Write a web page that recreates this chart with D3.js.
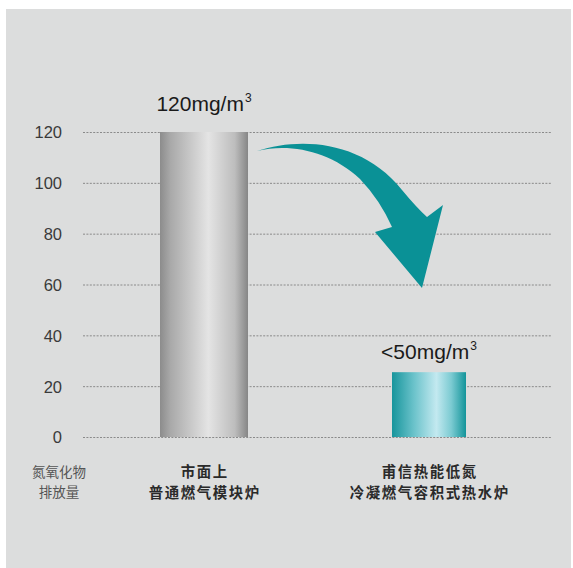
<!DOCTYPE html>
<html><head><meta charset="utf-8">
<script src="https://cdn.jsdelivr.net/npm/d3@7"></script>
<style>
html,body{margin:0;padding:0;background:#fff;}
svg{display:block;}
</style></head>
<body>
<script>
const categories = ["市面上\n普通燃气模块炉", "甫信热能低氮\n冷凝燃气容积式热水炉"];
const values = [120, 25.5];
const valueLabels = ["120mg/m", "<50mg/m"];
const ticks = [0, 20, 40, 60, 80, 100, 120];
const yTitle = ["氮氧化物", "排放量"];

const W = 573, H = 568;
const svg = d3.select("body").append("svg").attr("width", W).attr("height", H);
const defs = svg.append("defs");

svg.append("rect").attr("x", 6).attr("y", 9).attr("width", 565).attr("height", H - 9).attr("fill", "#dcdddd");

const y = d3.scaleLinear().domain([0, 120]).range([437, 132]);
const x = d3.scaleBand().domain(categories).range([91.5, 541.5]);
const barW = [88, 74];

const g1 = defs.append("linearGradient").attr("id", "gGray").attr("x1", "0").attr("x2", "1").attr("y1", "0").attr("y2", "0");
[[0, "#8c8c8c"], [0.12, "#a9a9a9"], [0.55, "#e4e4e4"], [0.85, "#bdbdbd"], [1, "#868686"]].forEach(s => g1.append("stop").attr("offset", s[0]).attr("stop-color", s[1]));
const g2 = defs.append("linearGradient").attr("id", "gTeal").attr("x1", "0").attr("x2", "1").attr("y1", "0").attr("y2", "0");
[[0, "#17959c"], [0.3, "#6cc3cb"], [0.6, "#c3e9f0"], [0.8, "#7ccbd2"], [1, "#13949a"]].forEach(s => g2.append("stop").attr("offset", s[0]).attr("stop-color", s[1]));
const fills = ["url(#gGray)", "url(#gTeal)"];

// grid
const axis = d3.axisLeft(y).tickValues(ticks).tickSize(0).tickPadding(21);
const ag = svg.append("g").attr("transform", "translate(83,0)").call(axis);
ag.select(".domain").remove();
ag.selectAll(".tick text").attr("font-family", "Liberation Sans, Arial, sans-serif").attr("font-size", 16.5).attr("fill", "#3a3a3a").attr("dy", "0.36em");
ag.selectAll(".tick").append("line").attr("x1", 0).attr("x2", 469).attr("stroke", "#8a8a8a").attr("stroke-width", 1).attr("stroke-dasharray", "2,1.4");

// bars
svg.selectAll("rect.bar").data(values).join("rect").attr("class", "bar")
  .attr("x", (d, i) => x(categories[i]) + x.bandwidth() / 2 - barW[i] / 2)
  .attr("width", (d, i) => barW[i])
  .attr("y", d => y(d)).attr("height", d => y(0) - y(d))
  .attr("fill", (d, i) => fills[i]);

// value labels
const vl = svg.selectAll("text.vl").data(values).join("text").attr("class", "vl")
  .attr("x", (d, i) => x(categories[i]) + x.bandwidth() / 2)
  .attr("y", (d, i) => i === 0 ? y(d) - 21 : y(d) - 13)
  .attr("text-anchor", "middle")
  .attr("font-family", "Liberation Sans, Arial, sans-serif").attr("font-size", 21).attr("fill", "#1a1a1a");
vl.append("tspan").text((d, i) => valueLabels[i]);
vl.append("tspan").text("3").attr("font-size", 12).attr("dx", 1).attr("dy", "-0.75em");

// category labels
categories.forEach((c, i) => {
  c.split("\n").forEach((l, k) => {
    svg.append("text").attr("text-anchor", "middle")
      .attr("font-family", "Noto Sans CJK SC, sans-serif").attr("font-size", 14.4).attr("font-weight", "bold")
      .attr("letter-spacing", 1.6).attr("fill", "#2a2a2a")
      .attr("x", x(c) + x.bandwidth() / 2 + 0.8).attr("y", 477 + k * 21).text(l);
  });
});

// y title
yTitle.forEach((l, k) => {
  svg.append("text").attr("text-anchor", "middle")
    .attr("font-family", "Noto Sans CJK SC, sans-serif").attr("font-size", 13.5).attr("fill", "#555")
    .attr("x", 59).attr("y", 477 + k * 20).text(l);
});

// arrow
const p = d3.path();
p.moveTo(257, 151);
p.bezierCurveTo(300, 137, 362, 140, 402, 190);
p.quadraticCurveTo(416, 207, 427, 217);
p.lineTo(443, 205);
p.lineTo(422, 288);
p.lineTo(375, 232);
p.lineTo(392, 227);
p.quadraticCurveTo(380, 200, 360, 179);
p.bezierCurveTo(330, 151, 290, 143, 257, 151);
p.closePath();
svg.append("path").attr("d", p.toString()).attr("fill", "#0a9196");
</script>
</body></html>
